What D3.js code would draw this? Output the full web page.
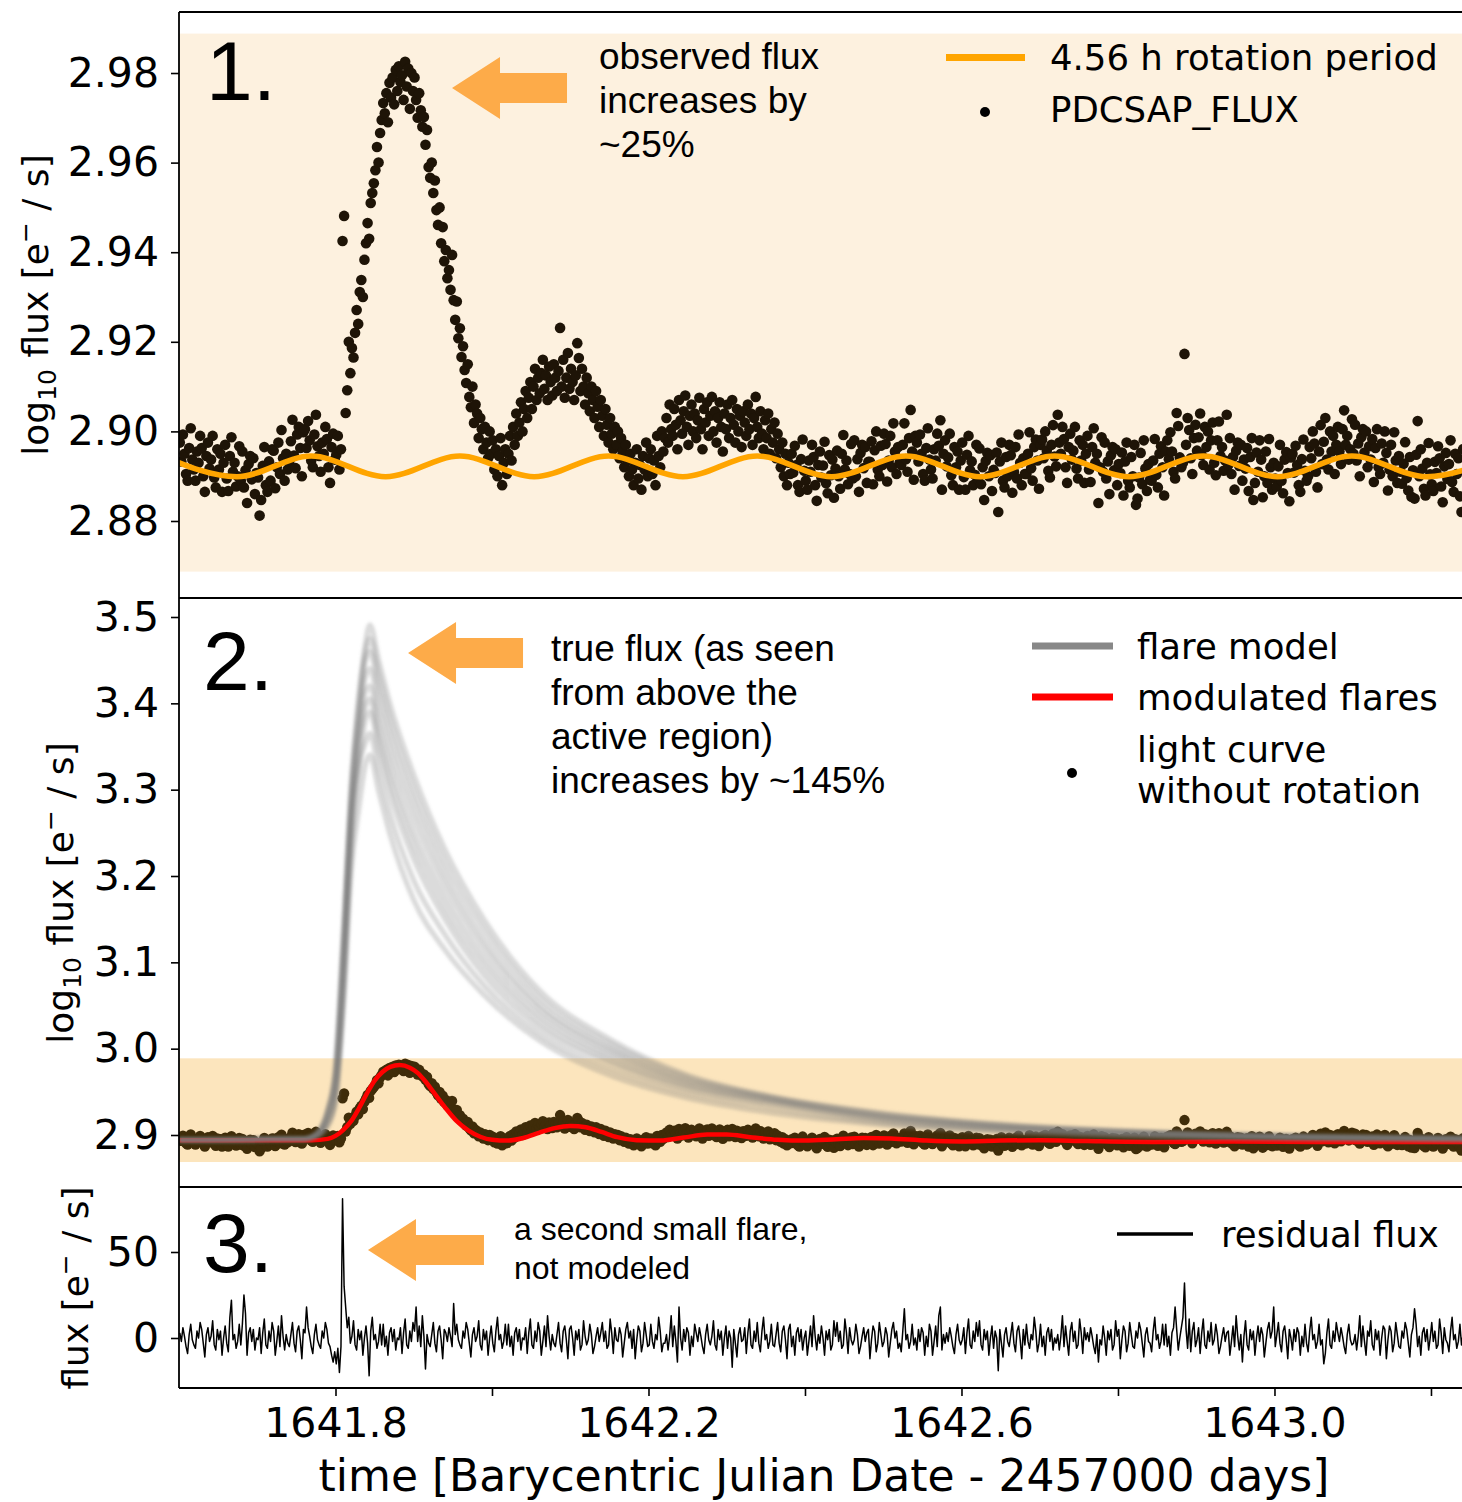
<!doctype html>
<html>
<head>
<meta charset="utf-8">
<script src="https://d3js.org/d3.v7.min.js"></script>
<style>
  body { margin: 0; background: white; }
  svg { font-family: 'DejaVu Sans'; background: white; }
  .note { font-family: 'Liberation Sans', Arial, sans-serif; }
  .axis text { font-family: 'DejaVu Sans'; fill: black; }
  .axis line { stroke: black; stroke-width: 1.6px; }
  .axis path { display: none; }
</style>
</head>
<body>
<svg width="1462" height="1502"></svg>
<script>
// ---- data ----
// TESS 2-min light curve, resampled every 0.002 d starting at t0
var t0 = 1641.601, cadence = 0.002;
// log10 flux minus 2.8, in units of 1e-4 (PDCSAP_FLUX)
var fluxE4 = [
975,933,993,950,905,890,963,1007,937,915, 890,955,930,990,963,900,865,945,975,917,
937,990,897,875,960,915,950,865,930,970, 895,867,945,987,910,930,877,900,967,890,
955,875,913,840,927,945,893,940,860,907, 897,812,847,923,965,880,865,933,890,960,
957,873,920,975,905,1003,940,890,950,915, 933,978,1026,946,918,993,1010,963,900,998,
1005,963,1023,980,935,920,993,1037,967,945, 910,975,950,1010,983,920,885,965,995,937,
948,990,915,960,1425,1481,1041,1092,1200,1130, 1186,1165,1220,1271,1240,1311,1338,1300,1383,1420,
1465,1430,1510,1532,1554,1583,1635,1600,1666,1695, 1733,1710,1755,1690,1778,1745,1790,1730,1807,1760,
1815,1780,1795,1740,1825,1770,1810,1720,1800,1760, 1790,1740,1700,1755,1717,1680,1702,1640,1673,1590,
1566,1600,1532,1560,1494,1461,1500,1420,1456,1380, 1405,1342,1360,1316,1394,1293,1249,1290,1208,1230,
1166,1190,1137,1108,1150,1077,1054,1100,1019,1060, 1040,985,1030,1005,960,1010,975,940,1000,950,
980,915,960,900,945,985,880,930,960,905, 950,
990,935,1010,970,1040,990,1020,1065,1000,1050, 1090,1030,1075,1110,1050,1100,1140,1070,1120,1085,
1130,1160,1095,1125,1070,1145,1110,1080,1150,1120, 1090,1135,1231,1100,1160,1075,1120,1175,1095,1140,
1110,1070,1125,1197,1164,1090,1140,1100,1060,1120, 1085,1045,1100,1070,1030,1090,1055,1010,1070,1035,
990,1050,1015,975,1030,995,960,1010,970,1000, 940,985,955,920,970,935,900,950,915,880,
930,960,895,925,870,945,915,975,900,940, 960,905,935,880,990,945,920,1000,955,985,
1030,975,1060,1005,990,1050,1015,960,1070,1025, 995,1045,1080,1010,970,1035,1060,1000,1040,985,
1025,1075,1005,960,1050,1020,1065,990,1035,1077, 1000,1045,975,1030,1065,1010,955,1040,1005,1060,
985,1030,1070,1015,975,1050,1000,1035,965,1045, 1020,990,1060,1005,1040,970,1030,1077,1010,985,
1045,995,960,1025,985,1040,950,1005,975,1020, 940,995,960,920,975,900,950,880,930,905,
950,908,968,925,880,865,938,982,912,890, 870,935,910,970,943,880,845,925,955,897,
924,977,884,862,947,902,937,852,917,957, 900,872,950,992,915,935,882,905,972,895,
980,900,938,865,952,970,918,965,885,932, 932,978,882,958,1000,915,900,968,925,995,
972,888,935,990,920,1018,955,905,965,930, 925,970,1018,938,910,985,1048,955,892,990,
975,933,993,950,905,890,963,1007,937,915, 895,960,935,995,968,1025,870,950,980,922,
942,995,902,880,965,920,955,870,935,975, 898,870,948,990,913,933,880,903,970,893,
962,882,920,847,934,952,900,947,867,914, 907,953,820,933,975,890,875,943,900,970,
947,863,910,965,895,993,930,880,940,905, 905,950,998,918,890,965,982,935,872,970,
982,940,1000,957,912,897,970,1014,944,922, 1037,975,950,1010,983,920,885,965,995,937,
957,1010,917,895,980,935,970,885,950,990, 915,887,965,1007,930,950,840,920,987,910,
975,895,933,860,947,965,913,960,880,927, 907,953,857,933,975,890,875,943,900,970,
836,850,897,952,882,980,917,867,927,892, 890,935,983,903,875,950,967,920,857,955,
980,938,998,955,910,895,1041,1012,942,920, 930,1173,970,1030,1003,940,905,985,1015,957,
987,1040,947,925,1010,965,1000,915,980,1020, 930,902,980,1022,945,965,912,935,1037,925,
985,905,943,870,957,975,923,970,890,937, 917,963,867,943,985,847,885,953,910,980,
937,853,900,955,885,983,920,870,930,895, 877,922,970,890,862,937,954,907,844,942,
950,908,968,925,880,865,938,982,912,890, 900,965,940,1000,973,910,875,955,1014,927,
977,1030,937,915,1000,955,990,905,970,1010, 955,927,1005,1047,970,990,937,960,1027,950,
1015,935,973,900,987,1005,953,1000,920,967, 937,983,887,963,1005,920,905,973,930,1000,
952,868,915,970,900,998,935,885,945,910, 883,928,976,896,868,943,854,913,850,948,
1023,900,960,917,872,857,930,974,904,882, 867,932,907,967,940,877,842,922,952,894,
927,980,887,865,950,905,940,855,820,960
];
// residual flux [e-/s], same cadence
var residual = [
3,-2,6,1,-5,-9,2,8,-1,-4, -6,4,0,9,5,-3,-11,2,6,-2, 1,10,-4,-7,5,-1,4,-10,0,7,
-3,-8,12,22,-1,2,-6,-2,8,-4, 8,25,14,-10,3,6,-2,5,-7,0, -1,6,-9,3,11,-4,-6,4,-2,9,
4,-10,-2,7,-5,13,1,-7,2,-3, -5,2,9,-3,-8,4,7,-1,-12,5, 3,18,6,1,-5,-9,2,8,-1,-4,
-6,4,0,9,5,-3,-5,-10,-14,-8, -15,-6,-20,-5,81,30,18,6,12,-3, 1,10,-4,-7,5,-1,4,-10,0,7,
-3,-22,4,12,-1,2,-6,-2,8,-4, 8,-5,1,-10,3,6,-2,5,-7,0, -1,6,-9,3,11,-4,-6,4,-2,9,
4,18,-2,7,-5,13,1,-18,2,-3, -5,2,9,-3,-8,4,7,-1,-12,5, 3,-2,6,1,-5,20,2,8,-1,-4,
-6,4,0,9,5,-3,-11,2,6,-2, 1,10,-4,-7,5,-1,4,-10,0,7, -3,-8,4,12,-1,2,-6,-2,8,-4,
8,-5,1,-10,3,6,-2,5,-7,0, -1,6,-9,3,11,-4,-6,4,-2,9, 4,-10,-2,7,-5,13,1,-7,2,-3,
-5,2,9,-3,-8,4,7,-1,-12,5, 7,0,-10,4,-1,5,-7,-4,10,1, -4,-1,8,2,-9,-5,1,6,-2,3,
9,-2,4,-6,-4,11,3,-9,6,-1, -2,6,2,-11,-3,5,9,0,4,-6, 5,-12,-1,7,4,-8,-3,9,2,-5,
-4,8,-2,-6,2,-1,12,4,-8,-3, -3,2,-7,1,13,-5,7,-2,-14,18, 0,-7,5,-2,6,3,-10,1,-5,8,
3,-2,6,1,-5,-9,2,8,-1,-4, 1,10,-4,-7,5,-1,4,-10,0,7, -6,4,0,-17,5,-3,-11,2,6,-2,
-1,6,-9,3,11,-4,-6,4,-2,9, -3,-8,4,12,-1,2,-6,-2,8,-4, -5,2,9,-3,-8,4,7,-1,-12,5,
8,-5,1,-10,3,6,-2,5,-7,0, 4,-10,-2,7,-5,13,1,-7,2,-3, 7,0,-10,4,-1,5,-7,-4,10,1,
9,-2,4,-6,-4,11,3,-9,6,-1, -4,-1,8,2,-9,-5,1,6,-2,3, 5,-12,-1,7,4,-8,-3,9,2,-5,
-2,6,2,-11,-3,5,9,0,4,-6, -3,-8,4,17,-1,2,-6,-2,8,-4, 0,-7,5,-2,6,3,-10,1,-5,8,
4,-10,-2,7,-5,13,18,-7,2,-3, 3,-2,6,1,-5,-9,2,8,-1,-4, -1,6,-9,3,11,-4,-6,4,-2,9,
1,10,-4,-7,5,-1,4,-10,0,7, -6,4,0,-19,5,-3,-11,2,6,-2, -5,2,9,-3,-8,4,7,-1,-12,5,
-4,8,-2,-6,2,-1,12,4,-8,-3, 8,-5,1,-10,3,6,-2,5,-7,0, -3,2,-7,1,13,-5,7,-2,-10,4,
9,-2,4,-6,-4,11,3,-9,6,-1, 3,-2,6,1,-5,-9,2,-14,-1,-4, 7,0,-10,4,-1,5,-7,-4,10,1,
5,-12,-1,7,4,-8,-3,9,2,-5, -6,4,0,9,5,-3,-11,2,6,-2, -3,-8,4,12,-1,2,-6,-2,8,-4,
8,-5,1,-10,3,6,18,5,-7,0, 6,12,32,5,-6,11,-8,4,9,-5, -1,6,-9,3,11,-4,-6,4,-2,9,
-4,-1,8,2,-9,-5,1,6,-2,3, 4,-10,-2,7,-5,13,1,-7,2,-14, 1,10,-4,-7,5,-1,4,-10,0,7,
-2,6,2,-11,-3,5,9,0,4,18, -5,2,9,-3,-8,4,7,-1,-12,5, 0,-7,5,-2,6,3,-10,1,-5,8,
-3,-8,4,12,-1,2,-6,-2,8,-4, -1,-15,-9,3,11,-4,-6,4,-2,9, 3,-2,6,1,-5,-9,2,8,-1,-4,
-3,2,-7,1,13,-5,7,-2,-10,4, 1,10,-4,-7,5,-1,4,-10,0,7, 5,-12,-1,7,4,-8,-3,9,2,-5,
-6,4,0,9,5,-3,-11,2,6,17, 8,-5,1,-10,3,6,-2,5,-7,0, 9,-2,4,-6,-4,11,3,-9,6,-1,
-3,-8,4,12,-1,2,-6,-2,8,-4, 2
];
// 4.56 h rotation model: extrema
var rotT = [1641.579,1641.674,1641.769,1641.864,1641.959,1642.054,1642.149,1642.244,1642.339,1642.434,
            1642.529,1642.624,1642.719,1642.814,1642.909,1643.004,1643.099,1643.194,1643.289];
var rotV = [2.8945,2.8899,2.8945,2.8899,2.8945,2.8899,2.8945,2.8899,2.8945,2.8899,
            2.8945,2.8899,2.8945,2.8899,2.8945,2.8899,2.8945,2.8899,2.8945];
// modulated flare model (red)
var modT = [1641.600,1641.770,1641.790,1641.800,1641.810,1641.820,1641.830,1641.840,1641.850,1641.860,
            1641.870,1641.882,1641.895,1641.905,1641.915,1641.925,1641.940,1641.955,1641.970,1641.985,
            1642.000,1642.020,1642.040,1642.060,1642.080,1642.100,1642.120,1642.140,1642.160,1642.185,
            1642.215,1642.245,1642.275,1642.300,1642.330,1642.365,1642.400,1642.440,1642.475,1642.510,
            1642.555,1642.600,1642.650,1642.700,1642.760,1642.850,1642.950,1643.050,1643.250];
var modV = [2.8940,2.8940,2.8955,2.8990,2.9060,2.9160,2.9310,2.9480,2.9630,2.9730,
            2.9790,2.9810,2.9780,2.9720,2.9620,2.9500,2.9320,2.9160,2.9050,2.8980,
            2.8945,2.8935,2.8965,2.9025,2.9080,2.9105,2.9090,2.9035,2.8975,2.8940,
            2.8935,2.8970,2.9005,2.9005,2.8975,2.8945,2.8935,2.8950,2.8965,2.8960,
            2.8935,2.8925,2.8935,2.8940,2.8930,2.8920,2.8925,2.8920,2.8920];
// sampled flare models (gray), all on the same time grid
var flareT = [1641.600,1641.760,1641.775,1641.790,1641.800,1641.810,1641.820,1641.830,1641.838,1641.844,
              1641.855,1641.870,1641.900,1641.940,1641.990,1642.060,1642.150,1642.250,1642.350,1642.500,
              1642.650,1642.850,1643.050,1643.250];
var flareModels = [
  [2.8942,2.8954,2.9000,2.9232,2.9625,3.1027,3.2880,3.4039,3.4676,3.4908,3.4502,3.3981,3.3170,3.2301,3.1490,3.0680,3.0110,2.9695,2.9463,2.9255,2.9127,2.9035,2.8988,2.8965],
  [2.8942,2.8954,2.9010,2.9280,2.9750,3.1250,3.3050,3.4100,3.4580,3.4750,3.4340,3.3820,3.3010,3.2160,3.1380,3.0600,3.0060,2.9670,2.9450,2.9242,2.9118,2.9030,2.8985,2.8962],
  [2.8942,2.8954,2.8990,2.9180,2.9520,3.0800,3.2700,3.3800,3.4480,3.4600,3.4180,3.3650,3.2850,3.2020,3.1260,3.0520,3.0010,2.9640,2.9440,2.9230,2.9110,2.9025,2.8982,2.8960],
  [2.8942,2.8954,2.9012,2.9300,2.9800,3.1350,3.3000,3.3850,3.4300,3.4400,3.3980,3.3460,3.2680,3.1890,3.1160,3.0460,2.9970,2.9615,2.9425,2.9215,2.9100,2.9020,2.8978,2.8957],
  [2.8942,2.8954,2.8985,2.9150,2.9450,3.0650,3.2450,3.3500,3.4120,3.4200,3.3780,3.3270,3.2500,3.1750,3.1050,3.0390,2.9920,2.9590,2.9410,2.9200,2.9090,2.9015,2.8975,2.8955],
  [2.8942,2.8954,2.9000,2.9250,2.9680,3.1100,3.2750,3.3600,3.3960,3.4050,3.3620,3.3110,3.2350,3.1620,3.0950,3.0320,2.9875,2.9560,2.9390,2.9185,2.9080,2.9008,2.8972,2.8952],
  [2.8942,2.8954,2.8982,2.9120,2.9400,3.0550,3.2300,3.3250,3.3800,3.3900,3.3470,3.2950,3.2200,3.1500,3.0850,3.0250,2.9830,2.9530,2.9370,2.9170,2.9070,2.9000,2.8968,2.8950],
  [2.8942,2.8954,2.9002,2.9260,2.9700,3.1150,3.2650,3.3300,3.3540,3.3650,3.3230,3.2700,3.1950,3.1320,3.0730,3.0170,2.9760,2.9480,2.9320,2.9140,2.9050,2.8988,2.8960,2.8946],
  [2.8942,2.8954,2.8980,2.9100,2.9380,3.0500,3.2050,3.2800,3.3286,3.3402,3.2996,3.2475,3.1722,3.1143,3.0622,3.0100,2.9695,2.9428,2.9266,2.9116,2.9035,2.8977,2.8954,2.8942]
];
var band = [2.8687, 2.9888];   // min/max of observed flux, shaded
var xTicks = [1641.8, 1642.0, 1642.2, 1642.4, 1642.6, 1642.8, 1643.0, 1643.2];
var xLabels = [1641.8, 1642.2, 1642.6, 1643.0];
var y1Ticks = [2.88, 2.90, 2.92, 2.94, 2.96, 2.98];
var y2Ticks = [2.9, 3.0, 3.1, 3.2, 3.3, 3.4, 3.5];
var y3Ticks = [0, 50];

// ---- layout ----
var L = 179, R = 1470.1;
var P1 = [12, 598], P2 = [598, 1187], P3 = [1187, 1388];
var svg = d3.select("svg");

var x = d3.scaleLinear().domain([1641.6, 1643.25]).range([L, R]);
var y1 = d3.scaleLinear().domain([2.86281, 2.99362]).range([P1[1], P1[0]]);
var y2 = d3.scaleLinear().domain([2.83977, 3.52201]).range([P2[1], P2[0]]);
var y3 = d3.scaleLinear().domain([-29.07, 87.79]).range([P3[1], P3[0]]);

var obs = fluxE4.map(function (n, i) { return {t: t0 + i * cadence, v: 2.8 + n / 1e4}; });
var res = residual.map(function (r, i) { return {t: t0 + i * cadence, v: r}; });
var rot = rotT.map(function (t, i) { return {t: t, v: rotV[i]}; });
var mod = modT.map(function (t, i) { return {t: t, v: modV[i]}; });

var defs = svg.append("defs");
[P1, P2, P3].forEach(function (p, k) {
  defs.append("clipPath").attr("id", "clip" + k)
    .append("rect").attr("x", L).attr("y", p[0]).attr("width", R - L).attr("height", p[1] - p[0]);
});
defs.append("filter").attr("id", "soft").attr("x", "-5%").attr("y", "-5%").attr("width", "110%").attr("height", "110%")
  .append("feGaussianBlur").attr("stdDeviation", 1.6);

// ---- panel 1 ----
var g1 = svg.append("g").attr("clip-path", "url(#clip0)");
g1.append("rect").attr("x", L).attr("width", R - L)
  .attr("y", y1(band[1])).attr("height", y1(band[0]) - y1(band[1])).attr("fill", "#fdf1df");
g1.selectAll("circle").data(obs).join("circle")
  .attr("cx", function (d) { return x(d.t); }).attr("cy", function (d) { return y1(d.v); })
  .attr("r", 5.3).attr("fill", "#1e1407");
g1.append("path").datum(rot)
  .attr("d", d3.line().curve(d3.curveMonotoneX).x(function (d) { return x(d.t); }).y(function (d) { return y1(d.v); }))
  .attr("fill", "none").attr("stroke", "#ffa500").attr("stroke-width", 5.5);

// ---- panel 2 ----
var g2 = svg.append("g").attr("clip-path", "url(#clip1)");
g2.append("rect").attr("x", L).attr("width", R - L)
  .attr("y", y2(band[1])).attr("height", y2(band[0]) - y2(band[1])).attr("fill", "#fce5bd");
g2.selectAll("circle").data(obs).join("circle")
  .attr("cx", function (d) { return x(d.t); }).attr("cy", function (d) { return y2(d.v); })
  .attr("r", 5.2).attr("fill", "#3f2c09");
var line2 = d3.line().curve(d3.curveMonotoneX).x(function (d) { return x(d.t); }).y(function (d) { return y2(d.v); });
g2.append("path").datum(mod).attr("d", line2)
  .attr("fill", "none").attr("stroke", "#ff0000").attr("stroke-width", 4.5);
var gm = g2.append("g").attr("filter", "url(#soft)");
flareModels.forEach(function (vals) {
  gm.append("path").datum(flareT.map(function (t, i) { return {t: t, v: vals[i]}; }))
    .attr("d", line2).attr("fill", "none").attr("stroke", "#7a7a7a")
    .attr("stroke-width", 5.5).attr("stroke-opacity", 0.27);
});

// ---- panel 3 ----
var g3 = svg.append("g").attr("clip-path", "url(#clip2)");
g3.append("path").datum(res)
  .attr("d", d3.line().x(function (d) { return x(d.t); }).y(function (d) { return y3(d.v); }))
  .attr("fill", "none").attr("stroke", "black").attr("stroke-width", 1.5).attr("stroke-linejoin", "round");

// ---- axes ----
function yAxis(scale, ticks, fmt) {
  svg.append("g").attr("class", "axis").attr("transform", "translate(" + L + ",0)")
    .call(d3.axisLeft(scale).tickValues(ticks).tickFormat(d3.format(fmt)).tickSize(8).tickPadding(12))
    .selectAll("text").attr("font-size", 41);
}
yAxis(y1, y1Ticks, ".2f");
yAxis(y2, y2Ticks, ".1f");
yAxis(y3, y3Ticks, "d");

svg.append("g").attr("class", "axis").attr("transform", "translate(0," + P3[1] + ")")
  .call(d3.axisBottom(x).tickValues(xTicks).tickSize(8).tickPadding(12)
    .tickFormat(function (d) { return xLabels.indexOf(d) >= 0 ? d3.format(".1f")(d) : ""; }))
  .selectAll("text").attr("font-size", 41);

// spines
var sp = svg.append("g").attr("stroke", "black").attr("stroke-width", 1.8);
sp.append("line").attr("x1", L).attr("x2", 1462).attr("y1", P1[0]).attr("y2", P1[0]);
[P1[1], P2[1], P3[1]].forEach(function (yy) {
  sp.append("line").attr("x1", L).attr("x2", 1462).attr("y1", yy).attr("y2", yy);
});
sp.append("line").attr("x1", L).attr("x2", L).attr("y1", P1[0]).attr("y2", P3[1]);

// axis labels
svg.append("text").attr("x", 824).attr("y", 1491).attr("text-anchor", "middle")
  .attr("font-size", 44).text("time [Barycentric Julian Date - 2457000 days]");

function yLabel(cx, cy, log) {
  var t = svg.append("text").attr("transform", "translate(" + cx + "," + cy + ") rotate(-90)")
    .attr("text-anchor", "middle").attr("font-size", 36);
  if (log) {
    t.append("tspan").text("log");
    t.append("tspan").attr("font-size", 25).attr("dy", 8).text("10");
    t.append("tspan").attr("dy", -8).text(" flux [e");
  } else {
    t.append("tspan").text("flux [e");
  }
  t.append("tspan").attr("font-size", 25).attr("dy", -14).text("\u2212");
  t.append("tspan").attr("dy", 14).text(" / s]");
}
yLabel(48, 305, true);
yLabel(73, 893, true);
yLabel(88, 1288, false);

// ---- legends ----
function legLine(x1, x2, yy, color, w) {
  svg.append("line").attr("x1", x1).attr("x2", x2).attr("y1", yy).attr("y2", yy)
    .attr("stroke", color).attr("stroke-width", w);
}
function legText(xx, yy, s) {
  svg.append("text").attr("x", xx).attr("y", yy).attr("font-size", 35.5).text(s);
}
legLine(946, 1025, 57.5, "#ffa500", 7);
legText(1050, 70, "4.56 h rotation period");
svg.append("circle").attr("cx", 985).attr("cy", 112).attr("r", 5).attr("fill", "black");
legText(1050, 122, "PDCSAP_FLUX");

legLine(1032, 1113, 646, "#888888", 7);
legText(1137, 659, "flare model");
legLine(1032, 1113, 697, "#ff0000", 7);
legText(1137, 710, "modulated flares");
svg.append("circle").attr("cx", 1072).attr("cy", 773).attr("r", 5).attr("fill", "black");
legText(1137, 762, "light curve");
legText(1137, 803, "without rotation");

legLine(1117, 1193, 1234, "black", 3.5);
legText(1221, 1247, "residual flux");

// ---- annotations ----
function bigNum(xx, yy, s) {
  svg.append("text").attr("class", "note").attr("x", xx).attr("y", yy).attr("font-size", 84).text(s);
}
bigNum(206, 100, "1.");
bigNum(203, 690, "2.");
bigNum(203, 1272, "3.");

function arrow(tipX, tipY, len) {
  var hl = 48, hw = 31, sw = 15;
  var pts = [[0, 0], [hl, -hw], [hl, -sw], [len, -sw], [len, sw], [hl, sw], [hl, hw]];
  svg.append("path").attr("d", "M" + pts.map(function (p) { return (tipX + p[0]) + "," + (tipY + p[1]); }).join("L") + "Z")
    .attr("fill", "#fdab49");
}
arrow(x(1641.9489), y1(2.97665), 115);
arrow(x(1641.8927), y2(3.4583), 115);
arrow(x(1641.8415), y3(51.2), 116);

function note(xx, yy, lines, fs, lh) {
  var t = svg.append("text").attr("class", "note").attr("font-size", fs);
  lines.forEach(function (s, i) { t.append("tspan").attr("x", xx).attr("y", yy + i * lh).text(s); });
}
note(599, 69, ["observed flux", "increases by", "~25%"], 37, 44);
note(551, 661, ["true flux (as seen", "from above the", "active region)", "increases by ~145%"], 37, 44);
note(514, 1240, ["a second small flare,", "not modeled"], 32, 39);
</script>
</body>
</html>
